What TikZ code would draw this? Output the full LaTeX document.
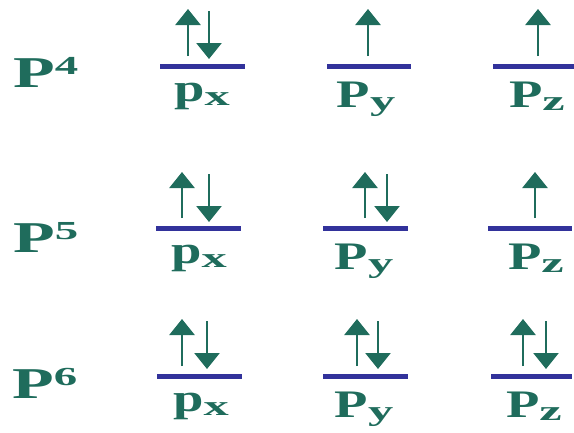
\documentclass[tikz,border=0pt]{standalone}
\usepackage{fontspec}
\usepackage{graphicx}
\setmainfont{Liberation Serif}[BoldFont={* Bold}]
\usetikzlibrary{arrows.meta}
\definecolor{spin}{RGB}{31,108,92}
\definecolor{levelblue}{RGB}{50,50,155}
\newcommand\orblabel[3]{\bfseries\scalebox{1.4}[1]{\fontsize{39}{39}\selectfont #1}\raisebox{#3}{\scalebox{1.8}[1]{\fontsize{28}{28}\selectfont #2}}}
\newcommand\cfglabel[1]{\bfseries\scalebox{1.55}[1]{\fontsize{44}{44}\selectfont P}\raisebox{13pt}{\scalebox{1.8}[1]{\fontsize{26}{26}\selectfont #1}}}
\tikzset{
  level/.style={draw=levelblue, line width=5pt},
  upspin/.style={draw=spin, line width=2.8pt, -{Triangle[length=16pt,width=25pt]}},
  dnspin/.style={draw=spin, line width=2.8pt, -{Triangle[length=16pt,width=25pt]}},
  lbl/.style={text=spin, inner sep=0pt, anchor=base},
  cfg/.style={text=spin, inner sep=0pt, anchor=base west}
}
\begin{document}
\begin{tikzpicture}[x=1pt,y=-1pt]
\useasboundingbox (0,0) rectangle (574,432);
% ---------- row 1 (bar y = 66)
\node[cfg] (c4) at (13,87) {\cfglabel{4}};
\draw[level] (160,66) coordinate (b11a) -- (245,66) coordinate (b11b);
\draw[level] (327,66) coordinate (b12a) -- (411,66) coordinate (b12b);
\draw[level] (493,66) coordinate (b13a) -- (576,66) coordinate (b13b);
\draw[upspin] (188,56) coordinate (u11s) -- (188,9) coordinate (u11e);
\draw[dnspin] (209,11) coordinate (d11s) -- (209,59) coordinate (d11e);
\draw[upspin] (368,56) coordinate (u12s) -- (368,9) coordinate (u12e);
\draw[upspin] (538,56) coordinate (u13s) -- (538,9) coordinate (u13e);
\node[lbl] (l11) at (202,101) {\orblabel{p}{x}{-4pt}};
\node[lbl] (l12) at (366,107) {\orblabel{P}{y}{-3pt}};
\node[lbl] (l13) at (537,107) {\orblabel{P}{z}{-3pt}};
% ---------- row 2 (bar y = 228)
\node[cfg] (c5) at (13,252) {\cfglabel{5}};
\draw[level] (156,228) coordinate (b21a) -- (241,228) coordinate (b21b);
\draw[level] (323,228) coordinate (b22a) -- (408,228) coordinate (b22b);
\draw[level] (488,228) coordinate (b23a) -- (572,228) coordinate (b23b);
\draw[upspin] (182,218) coordinate (u21s) -- (182,172) coordinate (u21e);
\draw[dnspin] (209,174) coordinate (d21s) -- (209,222) coordinate (d21e);
\draw[upspin] (365,218) coordinate (u22s) -- (365,172) coordinate (u22e);
\draw[dnspin] (387,174) coordinate (d22s) -- (387,222) coordinate (d22e);
\draw[upspin] (535,218) coordinate (u23s) -- (535,172) coordinate (u23e);
\node[lbl] (l21) at (199,263) {\orblabel{p}{x}{-4pt}};
\node[lbl] (l22) at (364,269) {\orblabel{P}{y}{-3pt}};
\node[lbl] (l23) at (536,269) {\orblabel{P}{z}{-3pt}};
% ---------- row 3 (bar y = 376)
\node[cfg] (c6) at (12,398) {\cfglabel{6}};
\draw[level] (157,376) coordinate (b31a) -- (242,376) coordinate (b31b);
\draw[level] (323,376) coordinate (b32a) -- (408,376) coordinate (b32b);
\draw[level] (491,376) coordinate (b33a) -- (572,376) coordinate (b33b);
\draw[upspin] (182,366) coordinate (u31s) -- (182,319) coordinate (u31e);
\draw[dnspin] (207,321) coordinate (d31s) -- (207,369) coordinate (d31e);
\draw[upspin] (357,366) coordinate (u32s) -- (357,319) coordinate (u32e);
\draw[dnspin] (378,321) coordinate (d32s) -- (378,369) coordinate (d32e);
\draw[upspin] (523,366) coordinate (u33s) -- (523,319) coordinate (u33e);
\draw[dnspin] (546,321) coordinate (d33s) -- (546,369) coordinate (d33e);
\node[lbl] (l31) at (201,411) {\orblabel{p}{x}{-4pt}};
\node[lbl] (l32) at (364,417) {\orblabel{P}{y}{-3pt}};
\node[lbl] (l33) at (534,417) {\orblabel{P}{z}{-3pt}};
\end{tikzpicture}
\end{document}
